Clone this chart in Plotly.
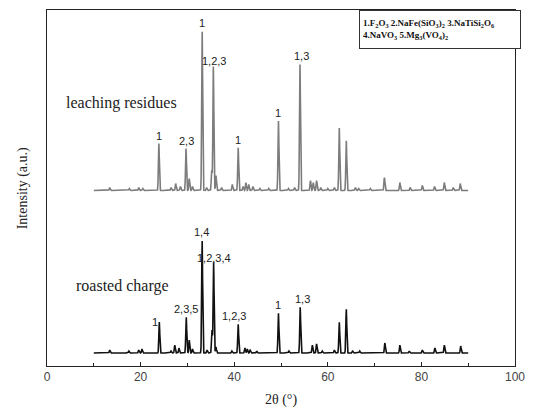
import numpy as np
import plotly.graph_objects as go

# 2-theta grid of the scans
two_theta = np.arange(10.0, 90.0001, 0.02)

# Reflections of the leaching residues: position (deg), intensity (counts)
res_pos = [13.4, 17.6, 19.6, 20.5, 23.9, 26.5, 27.5, 28.5, 29.7, 30.4, 31.1,
           33.15, 34.1, 35.2, 35.55, 36.1, 37.3, 39.6, 40.85, 41.9, 42.5, 43.1,
           44.0, 45.5, 47.4, 49.45, 51.6, 52.9, 54.05, 56.3, 56.9, 57.6, 58.5,
           60.0, 61.4, 62.45, 63.95, 65.9, 66.6, 69.1, 72.1, 75.4, 77.6, 80.2,
           82.8, 84.9, 86.8, 88.3]
res_int = [30, 20, 30, 20, 470, 30, 70, 40, 420, 120, 40,
           1600, 30, 200, 1250, 150, 30, 60, 430, 40, 80, 60,
           40, 20, 20, 700, 20, 30, 1270, 100, 80, 100, 30,
           20, 30, 630, 500, 30, 20, 20, 130, 80, 30, 50,
           40, 80, 30, 70]

# Reflections of the roasted charge
roa_pos = [13.4, 17.5, 19.6, 20.3, 24.0, 26.5, 27.3, 28.2, 29.75, 30.4, 31.1,
           33.15, 34.2, 35.25, 35.6, 36.1, 39.5, 40.85, 42.3, 42.8, 43.4, 44.8,
           49.45, 51.7, 54.1, 56.7, 57.6, 58.8, 61.4, 62.45, 63.95, 65.3, 66.8,
           72.2, 75.4, 77.4, 80.2, 82.9, 84.9, 88.4]
roa_int = [30, 20, 30, 40, 310, 20, 80, 50, 360, 130, 40,
           1130, 30, 230, 910, 60, 20, 290, 50, 40, 30, 20,
           400, 20, 460, 80, 90, 20, 30, 310, 440, 20, 20,
           100, 80, 20, 30, 50, 80, 70]

BASELINE = 130
RESIDUE_OFFSET = 1630

# Phase labels: (peak position, label)
res_labels = [(23.9, "1"), (29.7, "2,3"), (33.15, "1"), (35.55, "1,2,3"),
              (40.85, "1"), (49.45, "1"), (54.05, "1,3")]
roa_labels = [(24.0, "1"), (29.75, "2,3,5"), (33.15, "1,4"), (35.6, "1,2,3,4"),
              (40.85, "1,2,3"), (49.45, "1"), (54.1, "1,3")]

SIGMA = 0.1


def pattern(pos, inten):
    y = np.full_like(two_theta, float(BASELINE))
    for p, h in zip(pos, inten):
        y += h * np.exp(-0.5 * ((two_theta - p) / SIGMA) ** 2)
    return y


y_res = pattern(res_pos, res_int) + RESIDUE_OFFSET
y_roa = pattern(roa_pos, roa_int)

fig = go.Figure()
fig.add_trace(go.Scatter(x=two_theta, y=y_res, mode="lines",
                         line=dict(color="#7c7c7c", width=1.6),
                         showlegend=False))
fig.add_trace(go.Scatter(x=two_theta, y=y_roa, mode="lines",
                         line=dict(color="#111111", width=1.6),
                         showlegend=False))

label_font = dict(family="Liberation Sans, Arial", size=11, color="#222222")
xshifts = {"1,2,3": -4, "1,3": 2}


def add_labels(labels, pos, inten, offset, special=None):
    lookup = dict(zip(pos, inten))
    for p, txt in labels:
        top = BASELINE + offset + lookup[p]
        xs = xshifts.get(txt, 0)
        ys = 0
        if special and p in special:
            xs, ys = special[p]
        fig.add_annotation(x=p, y=top, text=txt, showarrow=False,
                           xanchor="center", yanchor="bottom",
                           xshift=xs, yshift=ys, font=label_font)


add_labels(res_labels, res_pos, res_int, RESIDUE_OFFSET,
           special={35.55: (1, -3)})
add_labels(roa_labels, roa_pos, roa_int, 0,
           special={24.0: (-4, -8), 33.15: (-1, 0), 35.6: (0, -4),
                    40.85: (-4, 0)})

serif = "Liberation Serif, Times New Roman, serif"
fig.add_annotation(x=16.0, y=2640, text="leaching residues", showarrow=False,
                   font=dict(family=serif, size=16, color="#222222"))
fig.add_annotation(x=16.2, y=800, text="roasted charge", showarrow=False,
                   font=dict(family=serif, size=16, color="#222222"))

fig.add_annotation(
    xref="paper", yref="paper", x=1.0, y=1.0, xanchor="right", yanchor="top",
    xshift=6,
    text=("1.F<sub>2</sub>O<sub>3</sub> 2.NaFe(SiO<sub>3</sub>)<sub>2</sub> "
          "3.NaTiSi<sub>2</sub>O<sub>6</sub><br>"
          "4.NaVO<sub>3</sub> 5.Mg<sub>3</sub>(VO<sub>4</sub>)<sub>2</sub>"),
    showarrow=False, align="left", valign="middle", width=154, height=31,
    bordercolor="#333333", borderwidth=1, borderpad=3, bgcolor="white",
    font=dict(family=serif, size=9, color="#111111", weight="bold"))

fig.add_annotation(xref="paper", yref="paper", x=-0.072, y=0.5,
                   text="Intensity (a.u.)", textangle=-90, showarrow=False,
                   font=dict(family=serif, size=14, color="#222222"))

fig.update_layout(
    width=534, height=413,
    margin=dict(l=47, r=13, t=9, b=47),
    paper_bgcolor="white", plot_bgcolor="white",
    xaxis=dict(range=[0, 100], dtick=20, ticks="inside", ticklen=4,
               tickcolor="#222", showline=True, linecolor="#222",
               linewidth=1, mirror=True, showgrid=False, zeroline=False,
               minor=dict(dtick=10, ticks="inside", ticklen=3,
                          tickcolor="#222"),
               tickfont=dict(family="Liberation Sans, Arial", size=12,
                             color="#444444"),
               title=dict(text="2θ (°)", standoff=10,
                          font=dict(family=serif, size=14, color="#222"))),
    yaxis=dict(range=[0, 3570], showticklabels=False, ticks="",
               showline=True, linecolor="#222", linewidth=1, mirror=True,
               showgrid=False, zeroline=False),
)

fig.write_html("out.html")
